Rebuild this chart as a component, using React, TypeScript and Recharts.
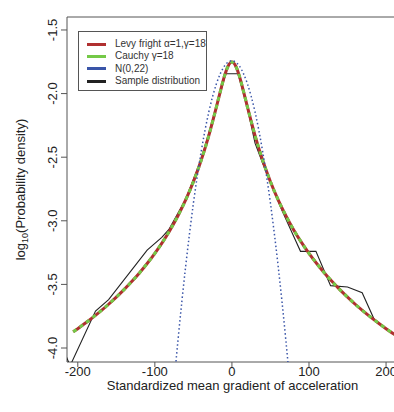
import { ComposedChart, Line, XAxis, YAxis, ReferenceArea, Label } from "recharts";

// values (log10 of probability density)
const curveX = [-206, -200, -190, -180, -170, -160, -150, -140, -130, -120, -110, -100, -90, -80, -70, -60, -50, -40, -30, -25, -20, -15, -10, -5, 0, 5, 10, 15, 20, 25, 30, 40, 50, 60, 70, 80, 90, 100, 110, 120, 130, 140, 150, 160, 170, 180, 190, 200, 210, 216];
const levyY = [-3.873, -3.848, -3.803, -3.757, -3.708, -3.656, -3.6, -3.541, -3.478, -3.41, -3.336, -3.256, -3.168, -3.07, -2.96, -2.836, -2.693, -2.526, -2.33, -2.219, -2.102, -1.982, -1.869, -1.785, -1.7525, -1.785, -1.869, -1.982, -2.102, -2.219, -2.33, -2.526, -2.693, -2.836, -2.96, -3.07, -3.168, -3.256, -3.336, -3.41, -3.478, -3.541, -3.6, -3.656, -3.708, -3.757, -3.803, -3.848, -3.89, -3.914];
const cauchyY = [-3.873, -3.848, -3.803, -3.757, -3.708, -3.656, -3.6, -3.541, -3.478, -3.41, -3.336, -3.256, -3.168, -3.07, -2.96, -2.836, -2.693, -2.526, -2.33, -2.219, -2.102, -1.982, -1.869, -1.785, -1.7525, -1.785, -1.869, -1.982, -2.102, -2.219, -2.33, -2.526, -2.693, -2.836, -2.96, -3.07, -3.168, -3.256, -3.336, -3.41, -3.478, -3.541, -3.6, -3.656, -3.708, -3.757, -3.803, -3.848, -3.89, -3.914];

const normalX = [-75, -70, -65, -60, -55, -50, -45, -40, -35, -30, -25, -20, -15, -10, -5, 0, 5, 10, 15, 20, 25, 30, 35, 40, 45, 50, 55, 60, 65, 70, 75];
const normalY = [-4.265, -3.94, -3.637, -3.357, -3.099, -2.863, -2.65, -2.46, -2.291, -2.145, -2.022, -1.921, -1.843, -1.786, -1.753, -1.742, -1.753, -1.786, -1.843, -1.921, -2.022, -2.145, -2.291, -2.46, -2.65, -2.863, -3.099, -3.357, -3.637, -3.94, -4.265];

const sampleX = [-218, -210, -177, -160, -110, -91, -82, -60, -40, -20, -8, 8, 20, 30, 40, 55, 65, 89, 109, 128, 150, 169, 185, 208, 220];
const sampleY = [-4.02, -4.14, -3.71, -3.62, -3.23, -3.13, -3.07, -2.83, -2.52, -2.1, -1.844, -1.844, -2.11, -2.39, -2.55, -2.77, -2.92, -3.24, -3.24, -3.51, -3.52, -3.565, -3.78, -3.88, -3.93];

const xTicks = [-200, -100, 0, 100, 200];
const yTicks = [-4, -3.5, -3, -2.5, -2, -1.5];

const legendItems = [
  { label: "Levy fright \u03b1=1,\u03b3=18", color: "#b03030" },
  { label: "Cauchy \u03b3=18", color: "#74c947" },
  { label: "N(0,22)", color: "#3a55a8" },
  { label: "Sample distribution", color: "#222222" },
];

const xDomain: [number, number] = [-214, 215.5];
const yDomain: [number, number] = [-4.11, -1.398];

const toPoints = (xs: number[], ys: number[]) => xs.map((x, i) => ({ x, y: ys[i] }));

const font = "'Liberation Sans', Arial, Helvetica, sans-serif";

// R draws y labels parallel to the axis; baseline sits just left of the tick marks
function YTick(props: any) {
  const { y, payload } = props;
  const x = 57;
  return (
    <text
      x={x}
      y={y}
      transform={`rotate(-90 ${x} ${y})`}
      textAnchor="middle"
      fontSize={13}
      fill="#222"
      fontFamily={font}
    >
      {Number(payload.value).toFixed(1)}
    </text>
  );
}

export default function App() {
  const levy = toPoints(curveX, levyY);
  const cauchy = toPoints(curveX, cauchyY);
  const normal = toPoints(normalX, normalY);
  const sample = toPoints(sampleX, sampleY);

  return (
    <div
      style={{
        position: "absolute",
        left: 0,
        top: 0,
        width: 394,
        height: 412,
        overflow: "hidden",
        background: "#fff",
        fontFamily: font,
      }}
    >
      <ComposedChart width={398} height={412} margin={{ top: 17, right: 0, left: 0, bottom: 0 }}>
        <XAxis
          type="number"
          dataKey="x"
          domain={xDomain}
          ticks={xTicks}
          interval={0}
          allowDataOverflow
          height={50}
          axisLine={false}
          tickSize={5}
          tickMargin={0}
          tickLine={{ stroke: "#555" }}
          tick={{ fontSize: 13, fill: "#222", fontFamily: font }}
        >
          <Label
            content={(p: any) => {
              const vb = p.viewBox || { x: 67, width: 331, y: 362 };
              return (
                <text
                  x={vb.x + vb.width / 2}
                  y={vb.y + 28}
                  textAnchor="middle"
                  fontSize={13}
                  fill="#222"
                  fontFamily={font}
                >
                  Standardized mean gradient of acceleration
                </text>
              );
            }}
          />
        </XAxis>
        <YAxis
          type="number"
          dataKey="y"
          domain={yDomain}
          ticks={yTicks}
          interval={0}
          allowDataOverflow
          width={67}
          axisLine={false}
          tickSize={6}
          tickMargin={4}
          tickLine={{ stroke: "#555" }}
          tick={<YTick />}
        >
          <Label
            content={(p: any) => {
              const vb = p.viewBox || { y: 17, height: 345 };
              const cx = 25;
              const cy = vb.y + vb.height / 2;
              return (
                <text
                  x={cx}
                  y={cy}
                  transform={`rotate(-90 ${cx} ${cy})`}
                  textAnchor="middle"
                  fontSize={13}
                  fill="#222"
                  fontFamily={font}
                >
                  log
                  <tspan fontSize={9} dy={3}>10</tspan>
                  <tspan dy={-3}>(Probability density)</tspan>
                </text>
              );
            }}
          />
        </YAxis>

        <Line data={sample} dataKey="y" type="linear" stroke="#222" strokeWidth={1.1} dot={false} activeDot={false} isAnimationActive={false} />
        <Line data={levy} dataKey="y" type="monotone" stroke="#b03030" strokeWidth={3} dot={false} activeDot={false} isAnimationActive={false} />
        <Line data={cauchy} dataKey="y" type="monotone" stroke="#74c947" strokeWidth={3} strokeDasharray="4 4" dot={false} activeDot={false} isAnimationActive={false} />
        <Line data={normal} dataKey="y" type="monotone" stroke="#3a55a8" strokeWidth={1.5} strokeDasharray="1.5 2.5" dot={false} activeDot={false} isAnimationActive={false} />

        <ReferenceArea
          x1={xDomain[0]}
          x2={xDomain[1]}
          y1={yDomain[0]}
          y2={yDomain[1]}
          fill="none"
          fillOpacity={0}
          stroke="#555"
          strokeWidth={1}
          ifOverflow="visible"
        />
      </ComposedChart>

      <div
        style={{
          position: "absolute",
          left: 78,
          top: 31,
          width: 129,
          height: 60,
          border: "1px solid #555",
          background: "#fff",
          fontSize: 10,
          color: "#333",
          lineHeight: "12.3px",
          paddingTop: 6,
          boxSizing: "border-box",
        }}
      >
        {legendItems.map((it) => (
          <div key={it.label} style={{ display: "flex", alignItems: "center", height: 12.3, whiteSpace: "nowrap" }}>
            <span style={{ display: "inline-block", marginLeft: 8, width: 19, height: 3, background: it.color }} />
            <span style={{ marginLeft: 9 }}>{it.label}</span>
          </div>
        ))}
      </div>
    </div>
  );
}
